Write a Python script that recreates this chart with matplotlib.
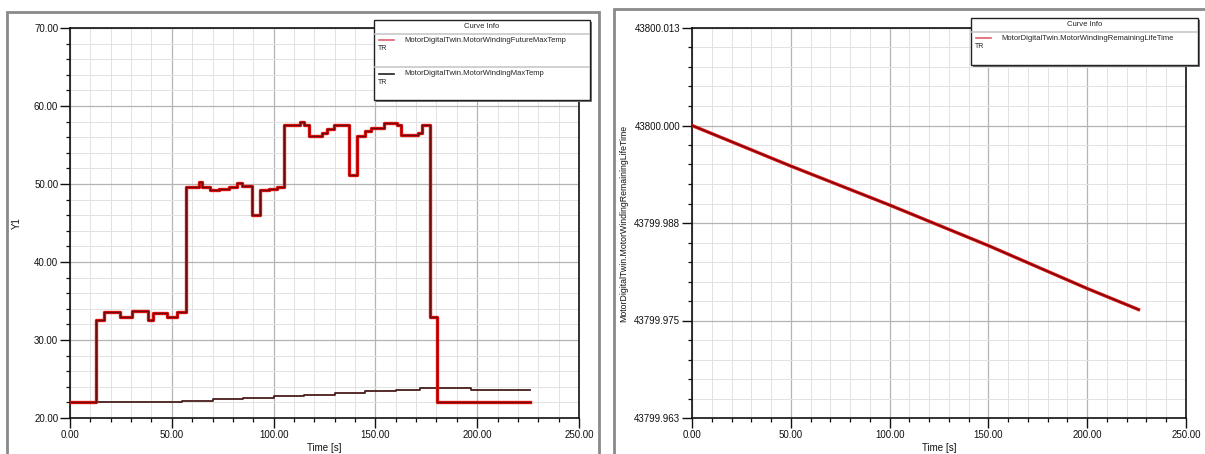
import matplotlib
matplotlib.use("Agg")
import matplotlib.pyplot as plt
from matplotlib.ticker import MultipleLocator, FixedLocator, FixedFormatter
from matplotlib.lines import Line2D
from matplotlib.patches import Rectangle

plt.rcParams['font.family'] = ['Liberation Sans', 'DejaVu Sans']

# ---------------- data ----------------
future_time = [0, 12.8, 16.6, 24.6, 30.5, 38.5, 40.9, 47.8, 52.6, 57.2, 63.5, 65.0,
               68.6, 73.0, 78.0, 81.8, 84.6, 89.6, 93.2, 97.7, 101.5, 105.0, 112.8,
               114.7, 117.5, 124.0, 126.0, 129.7, 137.0, 141.0, 144.7, 147.6, 154.0,
               160.7, 162.6, 171.0, 173.0, 177.0, 180.5, 225.8]
future_temp = [22.0, 32.6, 33.6, 32.9, 33.7, 32.6, 33.4, 32.9, 33.6, 49.6, 50.3, 49.6,
               49.2, 49.3, 49.6, 50.1, 49.8, 46.0, 49.2, 49.4, 49.6, 57.6, 57.9,
               57.6, 56.2, 56.5, 57.0, 57.6, 51.2, 56.2, 56.8, 57.2, 57.8,
               57.6, 56.3, 56.6, 57.6, 33.0, 22.0, 22.0]

max_time = [0, 20, 30, 45, 55, 70, 85, 100, 115, 130, 145, 160, 172, 197, 225.8]
max_temp = [22.0, 22.0, 22.05, 22.1, 22.2, 22.4, 22.6, 22.8, 23.0, 23.2, 23.4, 23.6,
            23.85, 23.6, 23.6]

life_time = [0, 50, 100, 150, 200, 226]
life_value = [43800.000, 43799.9948, 43799.9898, 43799.9846, 43799.9791, 43799.9764]

left_yticks = [20, 30, 40, 50, 60, 70]
left_ylabels = ["20.00", "30.00", "40.00", "50.00", "60.00", "70.00"]
xticks = [0, 50, 100, 150, 200, 250]
xlabels = ["0.00", "50.00", "100.00", "150.00", "200.00", "250.00"]
right_yticks = [43799.9625, 43799.975, 43799.9875, 43800.0, 43800.0125]
right_ylabels = ["43799.963", "43799.975", "43799.988", "43800.000", "43800.013"]

left_legend = ["MotorDigitalTwin.MotorWindingFutureMaxTemp",
               "MotorDigitalTwin.MotorWindingMaxTemp"]
right_legend = ["MotorDigitalTwin.MotorWindingRemainingLifeTime"]

# ---------------- figure ----------------
W, H = 1205, 454
fig = plt.figure(figsize=(W / 100, H / 100), dpi=100)
fig.patch.set_facecolor("white")


def fx(x):
    return x / W


def fy(y):
    return 1 - y / H


def axes_px(l, t, r, b):
    return [fx(l), fy(b), fx(r) - fx(l), fy(t) - fy(b)]


# panel frames
for (l, t, r, b) in [(7, 12, 599, 470), (614, 9, 1220, 470)]:
    fig.patches.append(Rectangle((fx(l), fy(b)), fx(r) - fx(l), fy(t) - fy(b),
                                 transform=fig.transFigure, fill=False,
                                 edgecolor="#8a8a8a", linewidth=2.0, zorder=0))

axL = fig.add_axes(axes_px(70, 28, 579, 418))
axR = fig.add_axes(axes_px(692, 28, 1186, 418))

DARK_RED = "#6e0a0a"
RED = "#e01010"

TICKFS = 7


def style(ax):
    ax.set_xlim(0, 250)
    ax.xaxis.set_major_locator(FixedLocator(xticks))
    ax.xaxis.set_major_formatter(FixedFormatter(xlabels))
    ax.xaxis.set_minor_locator(MultipleLocator(10))
    ax.grid(which="major", color="#b4b4b4", linewidth=0.9)
    ax.grid(which="minor", color="#e2e2e2", linewidth=0.7)
    ax.set_axisbelow(True)
    ax.tick_params(which="major", direction="out", length=7, width=1.0,
                   labelsize=TICKFS, pad=1.5, colors="#111111")
    ax.tick_params(which="minor", direction="out", length=3, width=0.9,
                   colors="#111111")
    for s in ax.spines.values():
        s.set_color("#111111")
        s.set_linewidth(1.2)
    ax.set_xlabel("Time [s]", fontsize=7, labelpad=2, color="#111111")


# ----- left chart -----
style(axL)
axL.set_ylim(20, 70)
axL.yaxis.set_major_locator(FixedLocator(left_yticks))
axL.yaxis.set_major_formatter(FixedFormatter(left_ylabels))
axL.yaxis.set_minor_locator(MultipleLocator(2))
axL.set_ylabel("Y1", fontsize=7, color="#111111")
axL.yaxis.set_label_coords((22 - 70) / 509, 0.5)

axL.step(max_time, max_temp, where="post", color="#4a1c1c", linewidth=1.3, zorder=3)
axL.step(future_time, future_temp, where="post", color=RED, linewidth=2.4, zorder=4)
axL.step(future_time, future_temp, where="post", color=DARK_RED, linewidth=0.9, zorder=5)

# ----- right chart -----
style(axR)
axR.set_ylim(right_yticks[0], right_yticks[-1])
axR.yaxis.set_major_locator(FixedLocator(right_yticks))
axR.yaxis.set_major_formatter(FixedFormatter(right_ylabels))
axR.yaxis.set_minor_locator(MultipleLocator(0.0125 / 5))
axR.set_ylabel(right_legend[0], fontsize=6.3, color="#111111")
axR.yaxis.set_label_coords((628 - 692) / 494, 0.5)
axR.plot(life_time, life_value, color=RED, linewidth=2.4, zorder=4)
axR.plot(life_time, life_value, color=DARK_RED, linewidth=0.9, zorder=5)


# ----- legends ("Curve Info" boxes) -----
def curve_info(l, t, r, b, labels, colors, entry_h):
    # shadow
    fig.patches.append(Rectangle((fx(l + 2), fy(b + 2)), fx(r) - fx(l), fy(t) - fy(b),
                                 transform=fig.transFigure, facecolor="#7a7a7a",
                                 edgecolor="none", zorder=10))
    fig.patches.append(Rectangle((fx(l), fy(b)), fx(r) - fx(l), fy(t) - fy(b),
                                 transform=fig.transFigure, facecolor="white",
                                 edgecolor="#222222", linewidth=1.0, zorder=11))
    fig.text(fx((l + r) / 2), fy(t + 7), "Curve Info", fontsize=5.5, ha="center",
             va="center", zorder=12, color="#222222")
    sep = t + 14
    fig.lines.append(Line2D([fx(l + 1), fx(r - 1)], [fy(sep), fy(sep)],
                            transform=fig.transFigure, color="#c8c8c8",
                            linewidth=1.2, zorder=12))
    for i, (lab, c) in enumerate(zip(labels, colors)):
        y0 = sep + 6 + i * entry_h
        fig.lines.append(Line2D([fx(l + 5), fx(l + 20)], [fy(y0), fy(y0)],
                                transform=fig.transFigure, color=c,
                                linewidth=1.2, zorder=12))
        fig.text(fx(l + 30), fy(y0), lab, fontsize=5.5, ha="left", va="center",
                 zorder=12, color="#222222")
        fig.text(fx(l + 4), fy(y0 + 8), "TR", fontsize=5.0, ha="left", va="center",
                 zorder=12, color="#222222")
        if i < len(labels) - 1:
            ys = y0 + entry_h - 7
            fig.lines.append(Line2D([fx(l + 1), fx(r - 1)], [fy(ys), fy(ys)],
                                    transform=fig.transFigure, color="#c8c8c8",
                                    linewidth=1.2, zorder=12))


curve_info(374, 20, 590, 100, left_legend, ["#e06070", "#222222"], 34)
curve_info(971, 18, 1198, 65, right_legend, ["#e06070"], 34)

fig.savefig("out.png", dpi=100, facecolor="white")
